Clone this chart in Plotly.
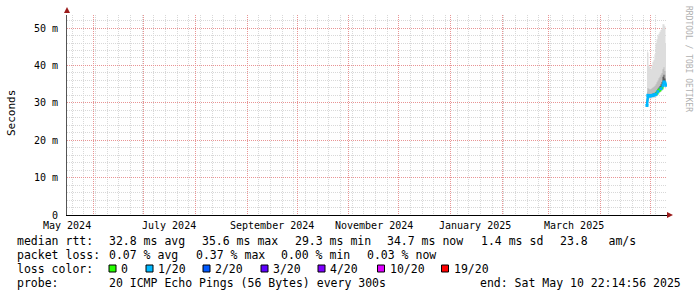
import plotly.graph_objects as go
import pandas as pd

# ---------------- data ----------------
END_TIME = "2025-05-10 22:14:56"
SPAN_DAYS = 360

times = [
    "2025-04-28 22:00", "2025-04-29 12:00", "2025-04-30 03:00", "2025-04-30 17:00",
    "2025-05-01 08:00", "2025-05-01 22:00", "2025-05-02 12:00", "2025-05-03 03:00",
    "2025-05-03 17:00", "2025-05-04 08:00", "2025-05-04 22:00", "2025-05-05 12:00",
    "2025-05-06 03:00", "2025-05-06 17:00", "2025-05-07 08:00", "2025-05-07 22:00",
    "2025-05-08 12:00", "2025-05-09 03:00", "2025-05-09 17:00", "2025-05-10 08:00",
]
median_ms = [29.3, 32.0, 31.9, 31.8, 31.9, 32.0, 32.0, 32.1, 32.2, 32.3,
             32.6, 33.0, 33.3, 33.5, 33.8, 34.0, 34.6, 35.6, 35.3, 34.7]
smoke_lo = [28.8, 31.2, 31.1, 31.0, 31.1, 31.2, 31.2, 31.3, 31.4, 31.5,
            31.8, 32.2, 32.5, 32.7, 33.0, 33.2, 33.6, 34.4, 34.2, 33.8]
smoke_p10 = [29.0, 31.6, 31.5, 31.4, 31.5, 31.6, 31.6, 31.7, 31.8, 31.9,
             32.2, 32.6, 32.9, 33.1, 33.4, 33.6, 34.1, 35.0, 34.8, 34.3]
smoke_p40 = [29.2, 31.8, 31.7, 31.6, 31.7, 31.8, 31.8, 31.9, 32.0, 32.1,
             32.4, 32.8, 33.1, 33.3, 33.6, 33.8, 34.4, 35.3, 35.0, 34.5]
smoke_p60 = [30.5, 32.4, 32.3, 32.2, 32.3, 32.4, 32.5, 32.6, 32.7, 32.9,
             33.3, 33.8, 34.1, 34.5, 35.0, 35.6, 37.0, 37.5, 36.5, 35.5]
smoke_p90 = [33.0, 34.0, 33.8, 33.6, 33.7, 33.9, 34.1, 34.3, 34.6, 35.0,
             35.5, 36.0, 36.6, 37.0, 37.5, 38.0, 39.0, 39.5, 38.5, 37.5]
smoke_hi = [44.0, 43.5, 40.0, 39.5, 39.0, 40.0, 41.0, 41.5, 43.0, 46.0,
            47.0, 48.0, 48.5, 49.0, 49.5, 50.0, 51.0, 51.0, 50.5, 46.0]
loss_pct = [0.37, 0.10, 0.05, 0.05, 0.03, 0.05, 0.03, 0.05, 0.03, 0.03,
            0.00, 0.03, 0.00, 0.00, 0.03, 0.00, 0.03, 0.05, 0.03, 0.03]

loss_labels = ["0", "1/20", "2/20", "3/20", "4/20", "10/20", "19/20"]
loss_thresholds = [0, 1, 2, 3, 4, 10, 19]
loss_colors = ["#26ff00", "#00b8ff", "#0059ff", "#5e00ff", "#7e00ff", "#dd00ff", "#ff0000"]

y_tickvals = [0, 10, 20, 30, 40, 50]
y_ticktext = ["0", "10 m", "20 m", "30 m", "40 m", "50 m"]
x_label_months = ["2024-05", "2024-07", "2024-09", "2024-11", "2025-01", "2025-03"]
x_label_text = ["May 2024", "July 2024", "September 2024", "November 2024", "January 2025", "March 2025"]

stats_rtt = ["32.8 ms avg", "35.6 ms max", "29.3 ms min", "34.7 ms now", "1.4 ms sd", "23.8   am/s"]
stats_loss = ["0.07 % avg", "0.37 % max", "0.00 % min", "0.03 % now"]
probe_text = "20 ICMP Echo Pings (56 Bytes) every 300s"
end_text = "end: Sat May 10 22:14:56 2025"

# ---------------- geometry helpers (pixel -> paper) ----------------
W, H = 697, 297
PL, PR, PT, PB = 67, 667, 15, 215


def px(x):
    return (x - PL) / (PR - PL)


def py(y):
    return (PB - y) / (PB - PT)


end_ts = pd.Timestamp(END_TIME)
start_ts = end_ts - pd.Timedelta(days=SPAN_DAYS)
label_vals = [pd.Timestamp(m + "-16") for m in x_label_months]
month_starts = list(pd.date_range(start_ts.normalize(), end_ts, freq="MS"))

MONO = "DejaVu Sans Mono"
GRID_MINOR = "#d8d8d8"
GRID_MAJOR = "#e89494"
GRID_DASH = "1px,1px"
ARROW = "#9b1b1b"

fig = go.Figure()

# smoke bands
bands = [(smoke_lo, smoke_hi, "#dddddd"), (smoke_p10, smoke_p90, "#bdbdbd"), (smoke_p40, smoke_p60, "#5a5a5a")]
for lo, hi, col in bands:
    fig.add_trace(go.Scatter(x=times, y=lo, mode="lines", line=dict(width=0, color=col, shape="hvh"),
                             showlegend=False, hoverinfo="skip"))
    fig.add_trace(go.Scatter(x=times, y=hi, mode="lines", line=dict(width=0, color=col, shape="hvh"),
                             fill="tonexty", fillcolor=col, showlegend=False, hoverinfo="skip"))

# dark median line
fig.add_trace(go.Scatter(x=times, y=median_ms, mode="lines", line=dict(width=1.5, color="#1a1a1a"),
                         showlegend=False, hoverinfo="skip"))


def loss_bin(pct):
    pings = pct / 100.0 * 20
    for i, t in enumerate(loss_thresholds):
        if pings <= t:
            return i
    return len(loss_thresholds) - 1


bins = [loss_bin(p) for p in loss_pct]
for ci, col in enumerate(loss_colors):
    ys = [m if b == ci else None for m, b in zip(median_ms, bins)]
    if all(v is None for v in ys):
        continue
    fig.add_trace(go.Scatter(x=times, y=ys, mode="lines+markers",
                             line=dict(width=2.5, color=col),
                             marker=dict(symbol="square", size=3, color=col),
                             connectgaps=False, showlegend=False, hoverinfo="skip"))

fig.update_layout(
    width=W, height=H, autosize=False,
    margin=dict(l=PL, r=W - PR, t=PT, b=H - PB),
    paper_bgcolor="white", plot_bgcolor="white",
    showlegend=False,
    xaxis=dict(
        type="date", range=[start_ts, end_ts],
        tickmode="array", tickvals=month_starts, ticktext=[""] * len(month_starts),
        ticks="", showgrid=True, gridcolor=GRID_MAJOR, griddash=GRID_DASH, gridwidth=1,
        zeroline=False, showline=True, linecolor="#000000", linewidth=1,
        minor=dict(tick0="2024-05-19", dtick=7 * 86400000, showgrid=True,
                   gridcolor=GRID_MINOR, griddash=GRID_DASH, gridwidth=1, ticks=""),
    ),
    yaxis=dict(
        range=[0, 53.5], tickmode="array", tickvals=y_tickvals, ticktext=y_ticktext,
        ticks="", showgrid=True, gridcolor=GRID_MAJOR, griddash=GRID_DASH, gridwidth=1,
        zeroline=False, showline=True, linecolor="#555555", linewidth=1,
        tickfont=dict(family=MONO, size=10, color="#000000"),
        ticklabelstandoff=6,
        minor=dict(dtick=2, showgrid=True, gridcolor=GRID_MINOR, griddash=GRID_DASH, ticks=""),
    ),
)

shapes = []
# axis arrows
shapes.append(dict(type="path", xref="paper", yref="paper",
                   path=f"M {px(64)} {py(13)} L {px(70)} {py(13)} L {px(67)} {py(7)} Z",
                   fillcolor=ARROW, line=dict(color=ARROW, width=0)))
shapes.append(dict(type="path", xref="paper", yref="paper",
                   path=f"M {px(667)} {py(212)} L {px(667)} {py(218)} L {px(673)} {py(215)} Z",
                   fillcolor=ARROW, line=dict(color=ARROW, width=0)))

annotations = []

# x tick labels, centred mid-month
for v, s in zip(label_vals, x_label_text):
    annotations.append(dict(x=v, y=py(225), xref="x", yref="paper", text=s, showarrow=False,
                            xanchor="center", yanchor="middle",
                            font=dict(family=MONO, size=10, color="#000000")))


def txt(x, y, s, size=11.5, color="#000000", **kw):
    d = dict(x=px(x), y=py(y), xref="paper", yref="paper", text=s, showarrow=False,
             xanchor="left", yanchor="middle", font=dict(family=MONO, size=size, color=color))
    d.update(kw)
    annotations.append(d)


# y-axis title
txt(11, 113, "Seconds", size=11, textangle=-90, xanchor="center")
# right side credit
txt(688, 59, "RRDTOOL / TOBI OETIKER", size=8, color="#b0b0b0", textangle=90, xanchor="center")

# legend rows
txt(15, 241, "median rtt:")
for xpos, s in zip([106.5, 199.5, 292.5, 385, 478.5, 557.5], stats_rtt):
    txt(xpos, 241, s)
txt(15, 255, "packet loss:")
for xpos, s in zip([106.5, 193.5, 278.5, 364.5], stats_loss):
    txt(xpos, 255, s)
txt(15, 269, "loss color:")
sq_left = [109, 146, 203, 261, 318, 377.5, 441.5]
for xl, col, lab in zip(sq_left, loss_colors, loss_labels):
    shapes.append(dict(type="rect", xref="paper", yref="paper",
                       x0=px(xl), x1=px(xl + 7), y0=py(272), y1=py(265),
                       fillcolor=col, line=dict(color="#000000", width=1)))
    txt(xl + 10, 269, lab)
txt(15, 283, "probe:")
txt(106.5, 283, probe_text)
txt(477.5, 283, end_text)

fig.update_layout(shapes=shapes, annotations=annotations)

fig.write_html("out.html", config={"displayModeBar": False})
